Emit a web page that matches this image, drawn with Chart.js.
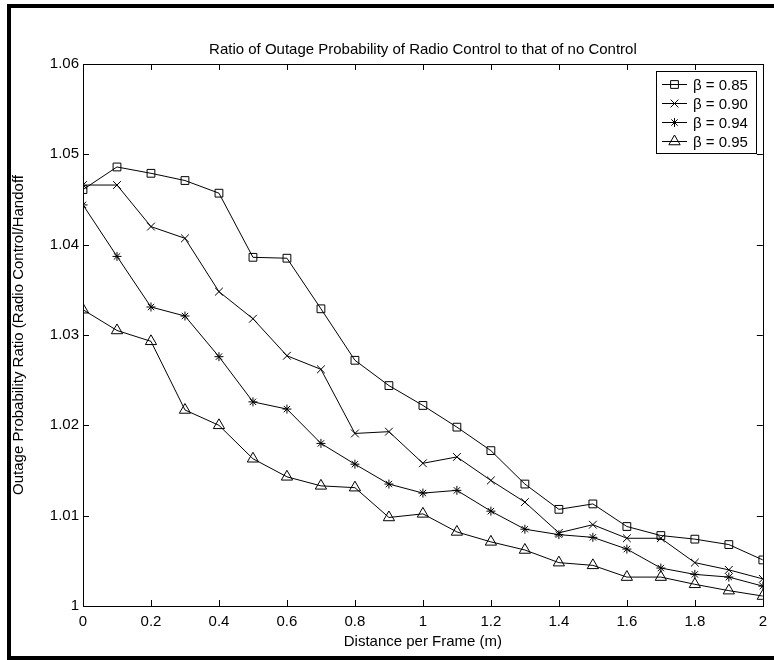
<!DOCTYPE html>
<html>
<head>
<meta charset="utf-8">
<script src="https://cdn.jsdelivr.net/npm/chart.js@4.4.1/dist/chart.umd.min.js"></script>
<style>
  html, body { margin: 0; padding: 0; background: #fff; }
  #wrap { width: 774px; height: 660px; }
</style>
</head>
<body>
<div id="wrap"><canvas id="chart" width="774" height="660"></canvas></div>
<script>
// distance per frame (m)
const distances = [0, 0.1, 0.2, 0.3, 0.4, 0.5, 0.6, 0.7, 0.8, 0.9, 1.0,
  1.1, 1.2, 1.3, 1.4, 1.5, 1.6, 1.7, 1.8, 1.9, 2.0];

const seriesLabels = ['\u03b2 = 0.85', '\u03b2 = 0.90', '\u03b2 = 0.94', '\u03b2 = 0.95'];

const beta085 = [1.0461, 1.0486, 1.0479, 1.0471, 1.0457, 1.0386, 1.0385, 1.0329, 1.0272, 1.0244, 1.0222,
  1.0198, 1.0172, 1.0135, 1.0107, 1.0113, 1.0088, 1.0078, 1.0074, 1.0068, 1.0051];
const beta090 = [1.0466, 1.0466, 1.0420, 1.0407, 1.0348, 1.0318, 1.0277, 1.0262, 1.0191, 1.0193, 1.0158,
  1.0165, 1.0139, 1.0115, 1.0081, 1.0090, 1.0075, 1.0075, 1.0048, 1.0040, 1.0030];
const beta094 = [1.0444, 1.0387, 1.0331, 1.0321, 1.0276, 1.0226, 1.0218, 1.0180, 1.0157, 1.0135, 1.0125,
  1.0128, 1.0105, 1.0085, 1.0079, 1.0076, 1.0063, 1.0042, 1.0035, 1.0032, 1.0022];
const beta095 = [1.0328, 1.0305, 1.0293, 1.0217, 1.0200, 1.0163, 1.0143, 1.0133, 1.0131, 1.0098, 1.0102,
  1.0082, 1.0071, 1.0062, 1.0048, 1.0045, 1.0032, 1.0032, 1.0024, 1.0017, 1.0011];

const xTicks = [0, 0.2, 0.4, 0.6, 0.8, 1, 1.2, 1.4, 1.6, 1.8, 2];
const yTicks = [1, 1.01, 1.02, 1.03, 1.04, 1.05, 1.06];

const FONT = '"Liberation Sans", Arial, Helvetica, sans-serif';
const FONT_SIZE = 15;
const markers = [
  { style: 'rect', radius: 5.5 },
  { style: 'crossRot', radius: 5.5 },
  { style: 'star', radius: 4.5 },
  { style: 'triangle', radius: 6.5 },
];

const toPoints = (vals) => vals.map((v, i) => ({ x: distances[i], y: v }));

const datasets = [beta085, beta090, beta094, beta095].map((vals, i) => ({
  label: seriesLabels[i],
  data: toPoints(vals),
  borderColor: '#000',
  borderWidth: 1,
  backgroundColor: 'rgba(0,0,0,0)',
  pointStyle: markers[i].style,
  pointRadius: markers[i].radius,
  pointHoverRadius: markers[i].radius,
  pointBorderColor: '#000',
  pointBackgroundColor: 'rgba(0,0,0,0)',
  pointBorderWidth: 1,
  tension: 0,
  fill: false,
}));

const fmt = (v) => String(Number(Number(v).toFixed(2)));

// matlab style box, inward ticks, titles, legend and page frame
const decorations = {
  id: 'decorations',
  afterDraw(chart) {
    const { ctx, chartArea: a, scales } = chart;
    const tl = 6;
    ctx.save();
    ctx.strokeStyle = '#000';
    ctx.lineWidth = 1;
    ctx.strokeRect(Math.round(a.left) + 0.5, Math.round(a.top) + 0.5,
      Math.round(a.right - a.left), Math.round(a.bottom - a.top));
    ctx.beginPath();
    xTicks.forEach((t) => {
      const px = Math.round(scales.x.getPixelForValue(t)) + 0.5;
      ctx.moveTo(px, a.bottom); ctx.lineTo(px, a.bottom - tl);
      ctx.moveTo(px, a.top); ctx.lineTo(px, a.top + tl);
    });
    yTicks.forEach((t) => {
      const py = Math.round(scales.y.getPixelForValue(t)) + 0.5;
      ctx.moveTo(a.left, py); ctx.lineTo(a.left + tl, py);
      ctx.moveTo(a.right, py); ctx.lineTo(a.right - tl, py);
    });
    ctx.stroke();

    // titles
    ctx.fillStyle = '#000';
    ctx.font = FONT_SIZE + 'px ' + FONT;
    ctx.textAlign = 'center';
    ctx.textBaseline = 'middle';
    const cx = (a.left + a.right) / 2;
    ctx.fillText('Ratio of Outage Probability of Radio Control to that of no Control', cx, 50);
    ctx.fillText('Distance per Frame (m)', cx, 642);
    ctx.save();
    ctx.translate(19, (a.top + a.bottom) / 2);
    ctx.rotate(-Math.PI / 2);
    ctx.fillText('Outage Probability Ratio (Radio Control/Handoff', 0, 0);
    ctx.restore();

    // legend
    const lx = 656, ly = 71, lw = 100, rowH = 19;
    const lh = rowH * datasets.length + 6;
    ctx.fillStyle = '#fff';
    ctx.fillRect(lx, ly, lw, lh);
    ctx.strokeRect(lx + 0.5, ly + 0.5, lw, lh);
    ctx.textAlign = 'left';
    chart.data.datasets.forEach((ds, i) => {
      const y = Math.round(ly + 13 + i * rowH) + 0.5;
      ctx.strokeStyle = '#000';
      ctx.beginPath();
      ctx.moveTo(lx + 6, y); ctx.lineTo(lx + 31, y);
      ctx.stroke();
      ctx.fillStyle = 'rgba(0,0,0,0)';
      Chart.helpers.drawPoint(ctx, {
        pointStyle: ds.pointStyle, radius: ds.pointRadius, borderWidth: 1, rotation: 0,
      }, lx + 18.5, y);
      ctx.fillStyle = '#000';
      ctx.fillText(ds.label, lx + 37, y + 1);
    });

    // page frame
    ctx.fillStyle = '#000';
    ctx.fillRect(7, 4, 774 - 7, 4);
    ctx.fillRect(7, 4, 4, 656);
    ctx.fillRect(7, 656, 774 - 7, 4);
    ctx.restore();
  },
};

new Chart(document.getElementById('chart'), {
  type: 'line',
  data: { datasets },
  options: {
    responsive: false,
    animation: false,
    events: [],
    layout: { padding: { top: 64, right: 10, bottom: 0, left: 0 } },
    plugins: {
      legend: { display: false },
      title: { display: false },
      tooltip: { enabled: false },
    },
    scales: {
      x: {
        type: 'linear',
        min: 0,
        max: 2,
        afterBuildTicks: (s) => { s.ticks = xTicks.map((v) => ({ value: v })); },
        afterFit: (s) => { s.height = 54; },
        grid: { display: false, drawTicks: false },
        border: { display: false },
        ticks: {
          color: '#000',
          font: { family: FONT, size: FONT_SIZE },
          padding: 7,
          maxRotation: 0,
          autoSkip: false,
          callback: (v) => fmt(v),
        },
      },
      y: {
        type: 'linear',
        min: 1,
        max: 1.06,
        afterBuildTicks: (s) => { s.ticks = yTicks.map((v) => ({ value: v })); },
        afterFit: (s) => { s.width = 83; },
        grid: { display: false, drawTicks: false },
        border: { display: false },
        ticks: {
          color: '#000',
          font: { family: FONT, size: FONT_SIZE },
          padding: 4,
          autoSkip: false,
          callback: (v) => fmt(v),
        },
      },
    },
  },
  plugins: [decorations],
});
</script>
</body>
</html>
